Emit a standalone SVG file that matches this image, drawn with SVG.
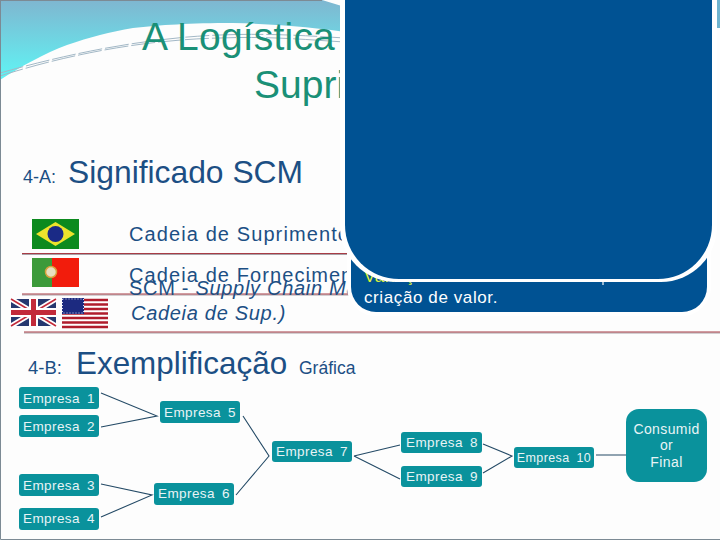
<svg xmlns="http://www.w3.org/2000/svg" width="720" height="540" viewBox="0 0 720 540">
<style>
text{font-family:"Liberation Sans",Arial,sans-serif}
.blue{fill:#1c4f84}
.title{font-size:39px;fill:#1a9077}
.box{fill:#0a929c}
.lbl{fill:#e8f4f6;font-size:13.5px;text-anchor:middle;word-spacing:3px;letter-spacing:.4px}
.con{fill:none;stroke:#244a66;stroke-width:1.1}
.rule{stroke:#a83c46;stroke-width:1.2}
.rule2{stroke:#a9a2a8;stroke-width:1}
.body{font-size:20px}
.panel{fill:#005293}
</style>
<defs>
<linearGradient id="sky" x1="0" y1="1" x2="0" y2="0"><stop offset="0" stop-color="#5ff5f5"/><stop offset="1" stop-color="#7fb6d0"/></linearGradient>
</defs>
<rect width="720" height="540" fill="#fdfdfd"/>
<path d="M0 0H322L345 7V32C320 28 280 24 233 23C190 23 160 25 133 28C110 32 90 37 67 45C45 53 20 67 0 80Z" fill="url(#sky)"/>
<path d="M0 76C50 60 130 40 220 38C270 36 310 40 345 42M0 73C60 56 140 38 220 35C270 33 310 36 345 38" fill="none" stroke="#a3b8c6" stroke-width="1" stroke-dasharray="24 3"/>
<path d="M717 0H720V28H717Z" fill="#6fb4cf"/>
<path d="M.5 0V539.500H720M0 .5H322" fill="none" stroke="#7c8a94" stroke-width="1"/>
<text x="142" y="50" class="title" letter-spacing=".2">A Logística</text>
<text x="254" y="98" class="title">Supri</text>
<text x="23" y="183" font-size="18" class="blue">4-A:</text>
<text x="68" y="183" font-size="31.800" class="blue">Significado SCM</text>
<g id="flag-br"><rect x="32" y="219" width="47" height="30" fill="#0c8a1e"/><path d="M36 234L55.500 222L75 234L55.500 246Z" fill="#ede32c"/><circle cx="55.500" cy="234" r="8" fill="#1a2a86"/></g>
<g id="flag-pt"><rect x="32" y="258" width="20" height="29" fill="#3c9a3a"/><rect x="52" y="258" width="27" height="29" fill="#f21c0c"/><circle cx="51" cy="272" r="5.500" fill="#e8e0c0" stroke="#d8a03c" stroke-width="1.500"/></g>
<g id="flag-uk"><rect x="11" y="299" width="45" height="27" fill="#26386f"/><path d="M11 299L56 326M56 299L11 326" stroke="#fff" stroke-width="5"/><path d="M11 299L56 326M56 299L11 326" stroke="#c22a3a" stroke-width="1.500"/><path d="M33.500 299V326M11 312.500H56" stroke="#fff" stroke-width="9"/><path d="M33.500 299V326M11 312.500H56" stroke="#c22a3a" stroke-width="5"/></g>
<g id="flag-us"><rect x="62" y="298" width="46" height="30" fill="#fff"/><path d="M62 300H108M62 304.500H108M62 309H108M62 313.500H108M62 318H108M62 322.500H108M62 327H108" stroke="#b01c2c" stroke-width="2.300"/><rect x="62" y="298" width="22" height="16" fill="#1c2a80"/><rect x="62.500" y="299" width="21" height="14" fill="none" stroke="#d8dcf0" stroke-width="1" stroke-dasharray="1 2"/></g>
<g id="rules">
<path class="rule2" d="M22 254.500H347"/><path class="rule" d="M22 253.500H347"/>
<path class="rule2" d="M22 295H350"/><path class="rule" d="M22 294H350"/>
<path class="rule2" d="M24 333H720"/><path class="rule" d="M24 332H720"/>
</g>
<text x="129" y="241" letter-spacing="1.100" class="body blue">Cadeia de Suprimentos</text>
<text x="129" y="282" letter-spacing="1.100" class="body blue">Cadeia de Fornecimento</text>
<text x="129" y="295" letter-spacing=".7" class="body blue">SCM - <tspan font-style="italic">Supply Chain Management</tspan></text>
<text x="131" y="320" letter-spacing=".7" font-style="italic" class="body blue">Cadeia de Sup.)</text>
<text x="28" y="374" font-size="18.500" class="blue">4-B:</text>
<text x="76" y="374" font-size="31.400" class="blue">Exemplificação</text>
<text x="299" y="374" font-size="17.500" class="blue">Gráfica</text>
<g id="connectors">
<path class="con" d="M101 393L157 416L101 427M243 416L269 456L236 495M101 484L152 495L101 517M354 456L400 445M354 456L400 479M483 444L512 456L483 473M596 455H629"/>
</g>
<g id="e1"><rect class="box" x="19" y="387" width="80" height="22" rx="3"/><text class="lbl" x="59" y="403">Empresa 1</text></g>
<g id="e2"><rect class="box" x="19" y="415" width="80" height="22" rx="3"/><text class="lbl" x="59" y="431">Empresa 2</text></g>
<g id="e3"><rect class="box" x="19" y="474" width="80" height="22" rx="3"/><text class="lbl" x="59" y="490">Empresa 3</text></g>
<g id="e4"><rect class="box" x="19" y="508" width="80" height="22" rx="3"/><text class="lbl" x="59" y="523">Empresa 4</text></g>
<g id="e5"><rect class="box" x="160" y="401" width="80" height="22" rx="3"/><text class="lbl" x="200" y="417">Empresa 5</text></g>
<g id="e6"><rect class="box" x="154" y="483" width="80" height="22" rx="3"/><text class="lbl" x="194" y="498">Empresa 6</text></g>
<g id="e7"><rect class="box" x="272" y="441" width="80" height="21" rx="3"/><text class="lbl" x="312" y="456">Empresa 7</text></g>
<g id="e8"><rect class="box" x="401" y="432" width="81" height="21" rx="3"/><text class="lbl" x="442" y="447">Empresa 8</text></g>
<g id="e9"><rect class="box" x="401" y="466" width="81" height="21" rx="3"/><text class="lbl" x="442" y="481">Empresa 9</text></g>
<g id="e10"><rect class="box" x="514" y="447" width="80" height="21" rx="3"/><text class="lbl" style="font-size:12.500px" x="554" y="462">Empresa 10</text></g>
<g id="consumidor"><rect class="box" x="626" y="409" width="81" height="73" rx="13"/><text class="lbl" style="font-size:14px;word-spacing:0" x="666.500" y="434">Consumid</text><text class="lbl" style="font-size:14px" x="666.500" y="450">or</text><text class="lbl" style="font-size:14px" x="666.500" y="467">Final</text></g>
<g id="panel-back"><path class="panel" d="M351 0H707V287A25 25 0 0 1 682 312H376A25 25 0 0 1 351 287Z" stroke="#fff" stroke-width="8" paint-order="stroke"/>
<text x="364" y="282" font-size="17" letter-spacing=".6" fill="#dcf03c">Variação</text>
<text x="364" y="303" font-size="17" letter-spacing=".6" fill="#fff">criação de valor.</text>
<path d="M603 281V285" stroke="#fff" stroke-width="1.200"/></g>
<g id="panel-front">
<path d="M340 0H717V226A56 56 0 0 1 661 282H396A56 56 0 0 1 340 226Z" fill="#fff"/>
<path class="panel" d="M345 0H712V225A54 54 0 0 1 658 279H399A54 54 0 0 1 345 225Z"/></g>
</svg>
